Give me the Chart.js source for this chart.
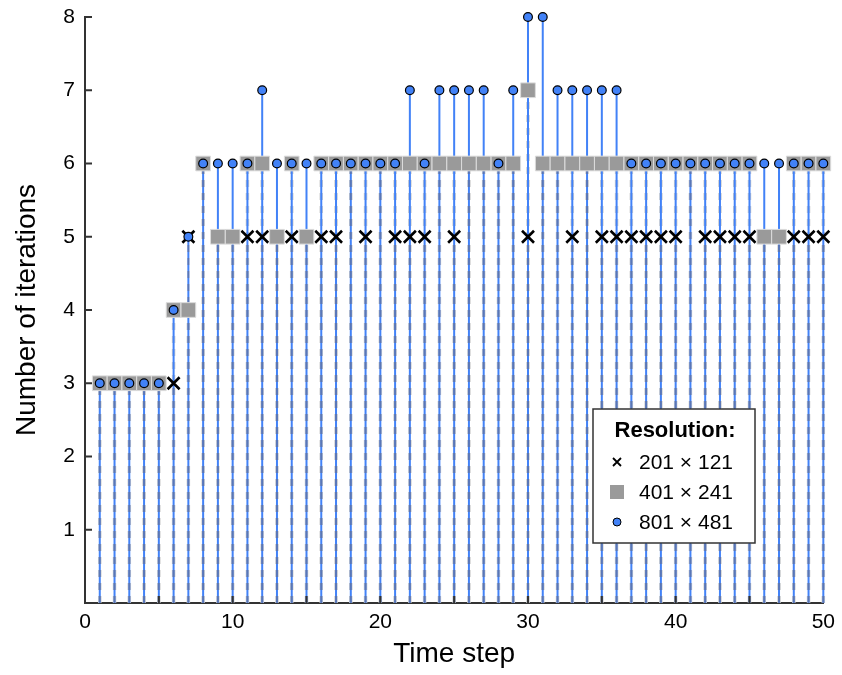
<!DOCTYPE html>
<html>
<head>
<meta charset="utf-8">
<script src="https://cdn.jsdelivr.net/npm/chart.js@4/dist/chart.umd.min.js"></script>
<style>
  body{ margin:0; background:#fff; }
  #wrap{ width:842px; height:675px; }
</style>
</head>
<body>
<div id="wrap"><canvas id="iterChart" width="842" height="675"></canvas></div>
<script>
// iterations per time step for three grid resolutions
const timeSteps = [];
for (let t = 1; t <= 50; t++) timeSteps.push(t);

const iters201 = [3,3,3,3,3,3,5,6,5,5, 5,5,5,5,5,5,5,6,5,6, 5,5,5,6,5,6,6,6,6,5, 6,6,5,6,5,5,5,5,5,5, 6,5,5,5,5,5,5,5,5,5];
const iters401 = [3,3,3,3,3,4,4,6,5,5, 6,6,5,6,5,6,6,6,6,6, 6,6,6,6,6,6,6,6,6,7, 6,6,6,6,6,6,6,6,6,6, 6,6,6,6,6,5,5,6,6,6];
const iters801 = [3,3,3,3,3,4,5,6,6,6, 6,7,6,6,6,6,6,6,6,6, 6,7,6,7,7,7,7,6,7,8, 8,7,7,7,7,7,6,6,6,6, 6,6,6,6,6,6,6,6,6,6];

const seriesLabels = ['201 \u00d7 121', '401 \u00d7 241', '801 \u00d7 481'];
const legendTitle = 'Resolution:';
const xTitle = 'Time step';
const yTitle = 'Number of iterations';

const BLUE = '#4282f7';
const GRAY = '#9a9a9a';
const FONT = '"Liberation Sans", Arial, Helvetica, sans-serif';

// stems: (t,0) -> (t,v), broken by a null so each stem is its own segment
function stems(vals){
  const out = [];
  vals.forEach((v,i)=>{
    out.push({x:timeSteps[i], y:0}, {x:timeSteps[i], y:v}, {x:timeSteps[i], y:null});
  });
  return out;
}
function pts(vals){ return vals.map((v,i)=>({x:timeSteps[i], y:v})); }

const stemBase = { showLine:true, pointRadius:0, pointHoverRadius:0, spanGaps:false, fill:false, clip:false };

// inward tick marks
const innerTicks = {
  id:'innerTicks',
  afterDraw(c){
    const ctx = c.ctx, xs = c.scales.x, ys = c.scales.y, a = c.chartArea;
    ctx.save();
    ctx.strokeStyle = '#333'; ctx.lineWidth = 2;
    ctx.beginPath();
    for (let v = 5; v < 50; v += 5){
      const px = xs.getPixelForValue(v);
      ctx.moveTo(px, a.bottom); ctx.lineTo(px, a.bottom - 7);
    }
    for (let v = 1; v <= 8; v++){
      const py = ys.getPixelForValue(v);
      ctx.moveTo(a.left, py); ctx.lineTo(a.left + 7, py);
    }
    ctx.stroke();
    ctx.restore();
  }
};

// legend box inside the plot
const legendBox = {
  id:'legendBox',
  afterDraw(c){
    const ctx = c.ctx;
    const bx = 593, by = 409, bw = 162, bh = 134;
    ctx.save();
    ctx.fillStyle = '#fff'; ctx.fillRect(bx, by, bw, bh);
    ctx.strokeStyle = '#333'; ctx.lineWidth = 1.5; ctx.strokeRect(bx, by, bw, bh);
    ctx.fillStyle = '#000';
    ctx.textBaseline = 'middle';
    ctx.font = 'bold 22px ' + FONT;
    ctx.textAlign = 'center';
    ctx.fillText(legendTitle, bx + bw/2 + 1, by + 22);
    ctx.font = '21px ' + FONT;
    ctx.textAlign = 'left';
    const rows = [by + 53, by + 83, by + 113];
    const mx = bx + 24, tx = bx + 46;
    // cross
    ctx.strokeStyle = '#000'; ctx.lineWidth = 1.8;
    ctx.beginPath();
    ctx.moveTo(mx-4, rows[0]-4); ctx.lineTo(mx+4, rows[0]+4);
    ctx.moveTo(mx+4, rows[0]-4); ctx.lineTo(mx-4, rows[0]+4);
    ctx.stroke();
    // square
    ctx.fillStyle = GRAY; ctx.fillRect(mx-7, rows[1]-7, 14, 14);
    // circle
    ctx.beginPath(); ctx.arc(mx, rows[2], 4, 0, Math.PI*2);
    ctx.fillStyle = BLUE; ctx.fill();
    ctx.lineWidth = 1; ctx.strokeStyle = '#000'; ctx.stroke();
    ctx.fillStyle = '#000';
    seriesLabels.forEach((l,i)=> ctx.fillText(l, tx, rows[i] + 1));
    ctx.restore();
  }
};

new Chart(document.getElementById('iterChart').getContext('2d'), {
  type:'scatter',
  data:{
    datasets:[
      Object.assign({label:'stem401', data:stems(iters401), borderColor:'#cfcfcf', borderWidth:3.5, borderDash:[7,6], order:6}, stemBase),
      Object.assign({label:'stem801', data:stems(iters801), borderColor:BLUE, borderWidth:2, order:5}, stemBase),
      Object.assign({label:'stem201', data:stems(iters201), borderColor:'rgba(110,110,130,0.55)', borderWidth:2, borderDash:[7,6], order:4}, stemBase),
      {label:seriesLabels[0], data:pts(iters201), pointStyle:'crossRot', pointRadius:8.5, borderColor:'#000', borderWidth:2.6, order:3, clip:false},
      {label:seriesLabels[1], data:pts(iters401), pointStyle:'rect', pointRadius:10.4, backgroundColor:GRAY, borderColor:'#dcdcdc', borderWidth:1, order:2, clip:false},
      {label:seriesLabels[2], data:pts(iters801), pointStyle:'circle', pointRadius:4.4, backgroundColor:BLUE, borderColor:'#000', borderWidth:1.2, order:1, clip:false}
    ]
  },
  options:{
    responsive:false, animation:false, devicePixelRatio:1,
    layout:{ padding:{ top:17, right:18, left:0, bottom:0 } },
    plugins:{ legend:{display:false}, tooltip:{enabled:false} },
    elements:{ point:{ hitRadius:0 } },
    scales:{
      x:{
        type:'linear', min:0, max:50,
        grid:{ display:false, drawTicks:false },
        border:{ display:true, color:'#333', width:2 },
        ticks:{ stepSize:5, padding:7, color:'#000', font:{family:FONT, size:21},
          callback:v => v % 10 === 0 ? v : '' },
        title:{ display:true, text:xTitle, color:'#000', font:{family:FONT, size:28}, padding:{top:4} },
        afterFit(s){ s.height = 72; }
      },
      y:{
        min:0, max:8,
        grid:{ display:false, drawTicks:false },
        border:{ display:true, color:'#333', width:2 },
        ticks:{ stepSize:1, padding:10, color:'#000', font:{family:FONT, size:21},
          callback:v => v === 0 ? '' : v },
        title:{ display:true, text:yTitle, color:'#000', font:{family:FONT, size:28}, padding:{top:10, bottom:4} },
        afterFit(s){ s.width = 85; s.paddingTop = 0; s.paddingBottom = 0; }
      }
    }
  },
  plugins:[innerTicks, legendBox]
});
</script>
</body>
</html>
